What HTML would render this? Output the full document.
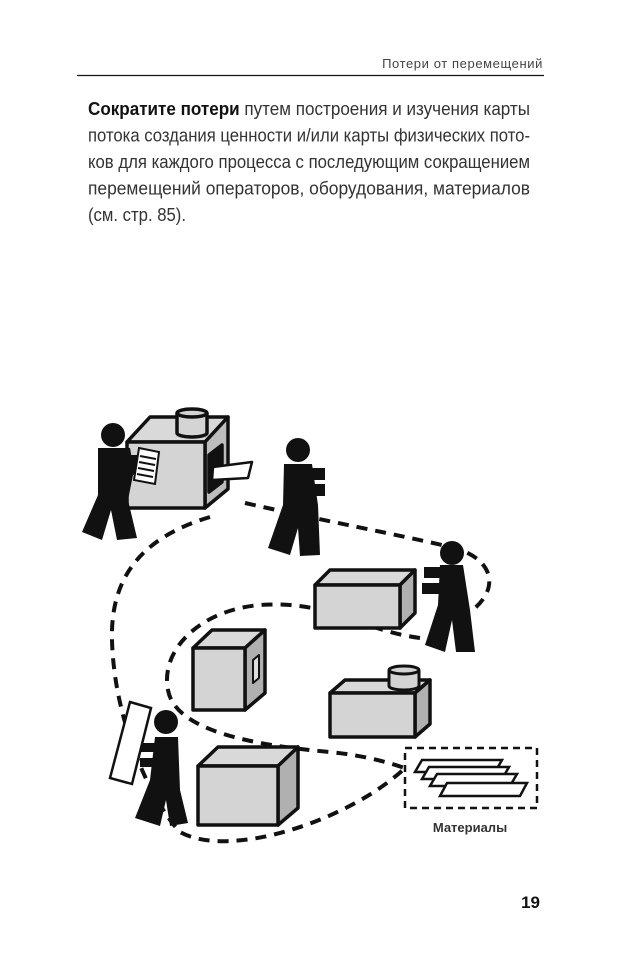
<!DOCTYPE html>
<html><head><meta charset="utf-8"><style>
html,body{margin:0;padding:0;background:#fff;width:632px;height:974px;overflow:hidden}
svg{display:block}
</style></head><body>
<svg width="632" height="974" viewBox="0 0 632 974" xmlns="http://www.w3.org/2000/svg" font-family="Liberation Sans, sans-serif">
<text x="543" y="68" font-size="13" fill="#444" text-anchor="end" letter-spacing="0.6">Потери от перемещений</text>
<line x1="77" y1="75.5" x2="544" y2="75.5" stroke="#111" stroke-width="1.3"/>
<g font-size="18" fill="#333">
<text x="88" y="115" textLength="442" lengthAdjust="spacingAndGlyphs"><tspan font-weight="bold" fill="#111">Сократите потери</tspan> путем построения и изучения карты</text>
<text x="88" y="141.5" textLength="442" lengthAdjust="spacingAndGlyphs">потока создания ценности и/или карты физических пото-</text>
<text x="88" y="168" textLength="442" lengthAdjust="spacingAndGlyphs">ков для каждого процесса с последующим сокращением</text>
<text x="88" y="194.5" textLength="442" lengthAdjust="spacingAndGlyphs">перемещений операторов, оборудования, материалов</text>
<text x="88" y="221" textLength="98" lengthAdjust="spacingAndGlyphs">(см. стр. 85).</text>
</g>
<text x="540" y="908" font-size="17" font-weight="bold" fill="#111" text-anchor="end">19</text>

<g stroke="#111" stroke-width="4" fill="none" stroke-dasharray="11,8">
<path d="M210,517 C150,535 110,570 112,640 C114,720 150,800 180,832 C230,860 350,820 405,768"/>
<path d="M245,503 C320,520 400,535 455,548 C495,560 500,590 470,612"/>
<path d="M420,638 C360,630 330,600 260,605 C200,610 160,650 168,690 C175,730 250,745 330,752 C370,756 395,765 405,768"/>
</g>

<g stroke="#111" stroke-width="3.5" stroke-linejoin="round">
<!-- machine -->
<polygon points="127,442 150,417 228,417 205,442" fill="#d9d9d9"/>
<polygon points="205,442 228,417 228,489 205,508" fill="#bdbdbd"/>
<rect x="127" y="442" width="78" height="66" fill="#d4d4d4"/>
<polygon points="209,455 222,445 222,482 209,492" fill="#111"/>
<path d="M177,413 V433 A15,4 0 0 0 207,433 V413" fill="#d4d4d4"/>
<ellipse cx="192" cy="413" rx="15" ry="4" fill="#d4d4d4"/>
<polygon points="213,467 252,462 248,478 212,480" fill="#fff" stroke-width="2.5"/>
<!-- box2 -->
<polygon points="315,585 330,570 415,570 400,585" fill="#d9d9d9"/>
<polygon points="400,585 415,570 415,613 400,628" fill="#b0b0b0"/>
<rect x="315" y="585" width="85" height="43" fill="#d4d4d4"/>
<!-- box3 -->
<polygon points="193,648 212,630 265,630 245,648" fill="#d9d9d9"/>
<polygon points="245,648 265,630 265,693 245,710" fill="#b0b0b0"/>
<rect x="193" y="648" width="52" height="62" fill="#d4d4d4"/>
<polygon points="253,660 259,655 259,678 253,683" fill="#ddd" stroke-width="2"/>
<!-- box4 -->
<polygon points="330,693 345,680 430,680 415,693" fill="#d9d9d9"/>
<polygon points="415,693 430,680 430,724 415,737" fill="#b0b0b0"/>
<rect x="330" y="693" width="85" height="44" fill="#d4d4d4"/>
<path d="M389,670 V686 A15,4 0 0 0 419,686 V670" fill="#d4d4d4" stroke-width="3"/>
<ellipse cx="404" cy="670" rx="15" ry="4" fill="#d4d4d4" stroke-width="3"/>
<!-- box5 -->
<polygon points="198,766 218,747 298,747 278,766" fill="#d9d9d9"/>
<polygon points="278,766 298,747 298,808 278,825" fill="#b0b0b0"/>
<rect x="198" y="766" width="80" height="59" fill="#d4d4d4"/>
</g>

<!-- people -->
<g fill="#111">
<circle cx="113" cy="435" r="12"/>
<polygon points="98,448 130,448 134,470 128,500 137,538 117,540 111,510 102,540 82,532 98,495"/>
<rect x="124" y="455" width="15" height="20"/>
<circle cx="298" cy="450" r="12"/>
<polygon points="284,464 312,464 318,505 320,555 300,556 298,528 290,555 268,548 283,505"/>
<rect x="309" y="468" width="16" height="12"/>
<rect x="309" y="484" width="16" height="12"/>
<circle cx="452" cy="553" r="12"/>
<polygon points="440,565 463,565 470,610 475,652 456,652 452,620 445,652 425,645 438,605"/>
<rect x="424" y="567" width="20" height="11"/>
<rect x="422" y="583" width="22" height="11"/>
<circle cx="166" cy="722" r="12"/>
<polygon points="155,737 178,737 180,790 188,823 170,826 166,800 160,826 135,818 150,780"/>
<rect x="140" y="743" width="18" height="9"/>
<rect x="140" y="758" width="18" height="9"/>
</g>
<polygon points="130,702 151,708 132,784 110,778" fill="#fff" stroke="#111" stroke-width="2.5"/>
<polygon points="139,448 159,452 155,484 134,480" fill="#fff" stroke="#111" stroke-width="2"/>
<g stroke="#111" stroke-width="2"><line x1="140" y1="456" x2="156" y2="459"/><line x1="139" y1="462" x2="155" y2="465"/><line x1="138" y1="468" x2="154" y2="471"/><line x1="137" y1="474" x2="153" y2="477"/></g>

<!-- materials -->
<rect x="405" y="748" width="132" height="60" fill="none" stroke="#111" stroke-width="2.5" stroke-dasharray="7,5"/>
<g fill="#fff" stroke="#111" stroke-width="2.5">
<polygon points="422,760 502,760 495,772 415,772"/>
<polygon points="429,767 509,767 502,779 422,779"/>
<polygon points="437,774 517,774 510,786 430,786"/>
<polygon points="447,783 527,783 520,796 440,796"/>
</g>
<text x="470" y="832" font-size="13" fill="#333" text-anchor="middle" font-weight="bold">Материалы</text>
</svg>
</body></html>
